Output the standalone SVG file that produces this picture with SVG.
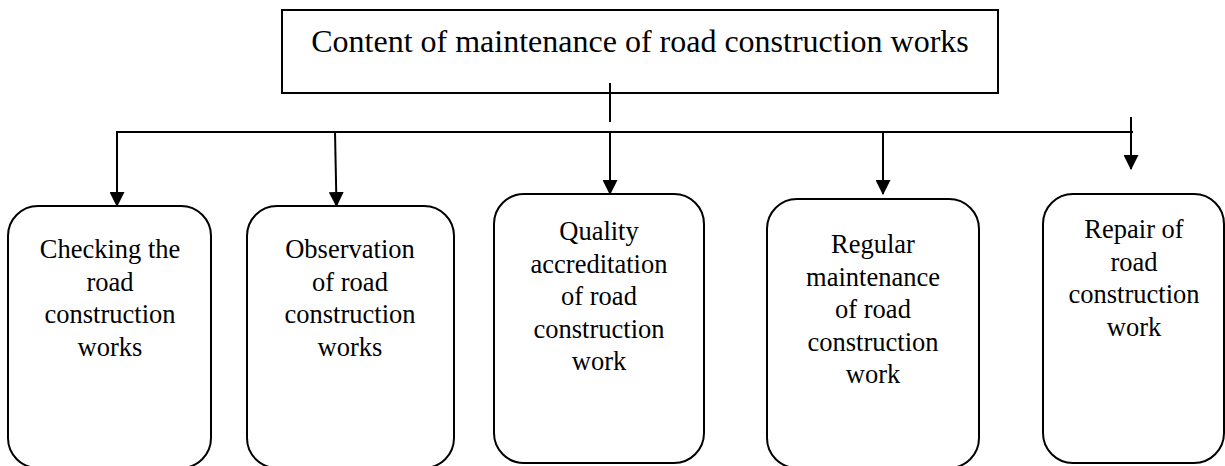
<svg xmlns="http://www.w3.org/2000/svg" width="1225" height="466" viewBox="0 0 1225 466">
<style>
.box{fill:#fff;stroke:#000;stroke-width:2}
.t{font-family:"Liberation Serif","Times New Roman",serif;font-size:26.5px;fill:#000;text-anchor:middle}
.title{font-family:"Liberation Serif","Times New Roman",serif;font-size:32px;fill:#000;text-anchor:middle}
.c{stroke:#000;stroke-width:2;fill:none}
</style>
<defs>
<marker id="ah" markerUnits="userSpaceOnUse" markerWidth="15" markerHeight="15" refX="14" refY="7.5" orient="auto" viewBox="0 0 15 15">
<path d="M0,0 L15,7.5 L0,15 z" fill="#000"/>
</marker>
</defs>
<rect width="1225" height="466" fill="#fff"/>
<g id="root">
<rect class="box" x="282" y="10" width="716" height="83"/>
<text class="title" x="640" y="52">Content of maintenance of road construction works</text>
</g>
<g id="connectors">
<line class="c" x1="610" y1="83" x2="610" y2="122"/>
<line class="c" x1="116" y1="132" x2="1133" y2="132" stroke-width="1.6"/>
<line class="c" x1="117" y1="132" x2="117" y2="206" marker-end="url(#ah)"/>
<line class="c" x1="335" y1="132" x2="336.5" y2="206" marker-end="url(#ah)"/>
<line class="c" x1="610" y1="132" x2="610" y2="194" marker-end="url(#ah)"/>
<line class="c" x1="883" y1="132" x2="883" y2="194" marker-end="url(#ah)"/>
<line class="c" x1="1131" y1="117" x2="1131" y2="169" marker-end="url(#ah)"/>
</g>
<g id="n1">
<rect class="box" x="8" y="206" width="203" height="262" rx="30" ry="30"/>
<text class="t" x="110" y="258">Checking the<tspan x="110" dy="32.5">road</tspan><tspan x="110" dy="32.5">construction</tspan><tspan x="110" dy="32.5">works</tspan></text>
</g>
<g id="n2">
<rect class="box" x="247" y="206" width="207" height="262" rx="30" ry="30"/>
<text class="t" x="350" y="258">Observation<tspan x="350" dy="32.5">of road</tspan><tspan x="350" dy="32.5">construction</tspan><tspan x="350" dy="32.5">works</tspan></text>
</g>
<g id="n3">
<rect class="box" x="494" y="194" width="210" height="269" rx="30" ry="30"/>
<text class="t" x="599" y="240">Quality<tspan x="599" dy="32.5">accreditation</tspan><tspan x="599" dy="32.5">of road</tspan><tspan x="599" dy="32.5">construction</tspan><tspan x="599" dy="32.5">work</tspan></text>
</g>
<g id="n4">
<rect class="box" x="767" y="199" width="212" height="269" rx="30" ry="30"/>
<text class="t" x="873" y="253">Regular<tspan x="873" dy="32.5">maintenance</tspan><tspan x="873" dy="32.5">of road</tspan><tspan x="873" dy="32.5">construction</tspan><tspan x="873" dy="32.5">work</tspan></text>
</g>
<g id="n5">
<rect class="box" x="1043" y="194" width="181" height="269" rx="30" ry="30"/>
<text class="t" x="1134" y="238">Repair of<tspan x="1134" dy="32.5">road</tspan><tspan x="1134" dy="32.5">construction</tspan><tspan x="1134" dy="32.5">work</tspan></text>
</g>
</svg>
